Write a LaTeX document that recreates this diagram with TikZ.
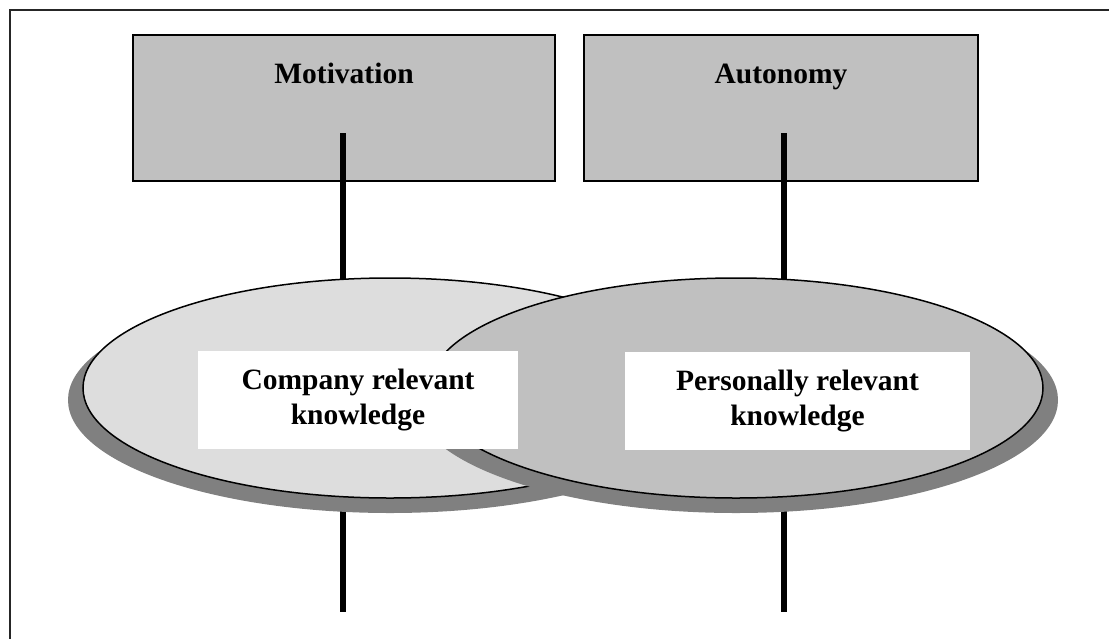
\documentclass[tikz,border=0pt]{standalone}
\usepackage{fontspec}
\setmainfont{Liberation Serif}
\usetikzlibrary{shapes.geometric}
\definecolor{boxgray}{HTML}{C0C0C0}
\definecolor{lightell}{HTML}{DDDDDD}
\definecolor{shadowgray}{HTML}{808080}
\begin{document}
\begin{tikzpicture}[x=1pt,y=-1pt,
  box/.style={draw=black, line width=2pt, fill=boxgray, minimum height=146pt, inner sep=0pt},
  boxtext/.style={anchor=base, font=\fontsize{29.5}{35}\selectfont\bfseries, inner sep=0pt},
  conn/.style={line width=5.5pt, draw=black},
  ell/.style={ellipse, draw=black, line width=1.5pt, minimum width=614pt, minimum height=220pt, inner sep=0pt},
  shadowell/.style={ellipse, fill=shadowgray, draw=none, minimum width=644pt, minimum height=226pt, inner sep=0pt},
  lbl/.style={fill=white, draw=none, minimum height=98pt, align=center, inner sep=0pt, font=\fontsize{29.5}{35}\selectfont\bfseries}
]
\useasboundingbox (0,0) rectangle (1109,638);
\clip (0,0) rectangle (1109,638);
% frame (only its left and top edges fall inside the picture)
\draw[line width=2pt, draw=black!85] (10,10) rectangle (1300,800);
% boxes
\node[box, minimum width=422pt] (mot) at (344,108) {};
\node[box, minimum width=394pt] (aut) at (781,108) {};
\node[boxtext] (motT) at (344,83) {Motivation};
\node[boxtext] (autT) at (781,83) {Autonomy};
% connector coordinates
\coordinate (m1) at (343,133);
\coordinate (m2) at (343,300);
\coordinate (a1) at (784,133);
\coordinate (a2) at (784,300);
\coordinate (m3) at (343,490);
\coordinate (m4) at (343,612);
\coordinate (a3) at (784,490);
\coordinate (a4) at (784,612);
\draw[conn] (m1) -- (m2);
\draw[conn] (a1) -- (a2);
\draw[conn] (m3) -- (m4);
\draw[conn] (a3) -- (a4);
% ellipses
\node[shadowell] (lsh) at (390,400) {};
\node[ell, fill=lightell] (lell) at (390,388) {};
\node[shadowell] (rsh) at (736,400) {};
\node[ell, fill=boxgray] (rell) at (736,388) {};
% labels
\node[lbl, minimum width=320pt] (clab) at (358,400) {Company relevant\\knowledge};
\node[lbl, minimum width=345pt] (plab) at (797.5,401) {Personally relevant\\knowledge};
\end{tikzpicture}
\end{document}
